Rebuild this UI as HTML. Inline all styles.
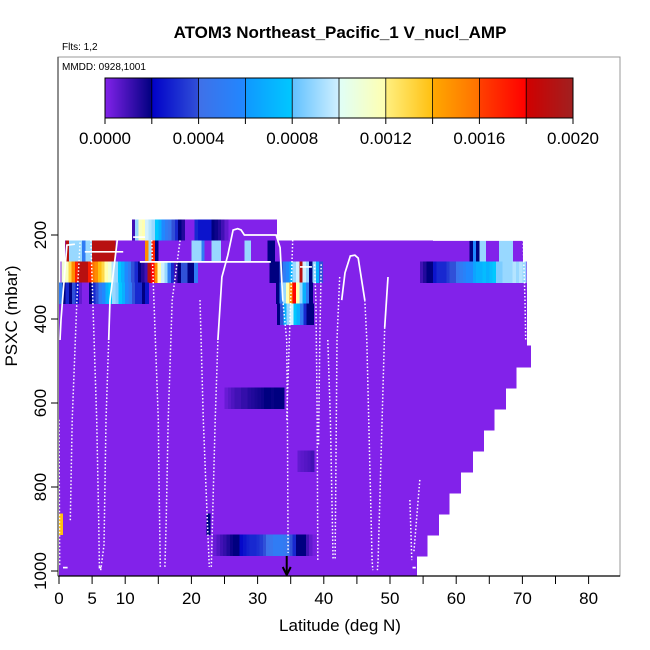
<!DOCTYPE html>
<html><head><meta charset="utf-8"><style>
html,body{margin:0;padding:0;background:#fff}
svg{display:block;font-family:"Liberation Sans",sans-serif}
</style></head><body>
<svg id="chart" width="650" height="650" viewBox="0 0 650 650">
<defs><clipPath id="plotclip"><rect x="58" y="57" width="562" height="519"/></clipPath></defs>
<text x="340" y="38" text-anchor="middle" font-size="17" font-weight="bold">ATOM3 Northeast_Pacific_1 V_nucl_AMP</text>
<text x="62" y="50" font-size="10">Flts: 1,2</text>
<g id="heat" clip-path="url(#plotclip)" shape-rendering="crispEdges"></g>
<g id="tracks" clip-path="url(#plotclip)"></g>
<rect x="58" y="57" width="562" height="519" fill="none" stroke="#999" stroke-width="1"/>
<text x="62" y="70" font-size="10">MMDD: 0928,1001</text>
<g id="cbar"></g>
<g id="axes"></g>
<text x="340" y="631" text-anchor="middle" font-size="17">Latitude (deg N)</text>
<text transform="translate(17,316) rotate(-90)" text-anchor="middle" font-size="17">PSXC (mbar)</text>
</svg>
<script>
const xTicks=[0,5,10,15,20,25,30,35,40,45,50,55,60,65,70,75,80];
const xTickLabels=["0","5","10","","20","","30","","40","","50","","60","","70","","80"];
const yTicks=[200,400,600,800,1000];
const cbTicks=[0,0.0002,0.0004,0.0006,0.0008,0.001,0.0012,0.0014,0.0016,0.0018,0.002];
const cbLabels=["0.0000","0.0004","0.0008","0.0012","0.0016","0.0020"];
const rowCoverage=[[11,32.9],[0.9,70.1],[0.2,70.7],[0,70.7],[0,70.7],[0,70.7],[0,71.3],[0,69.1],[0,67.5],[0,65.8],[0,64.2],[0,62.5],[0,60.7],[0,59],[0,57.4],[0,55.7],[0,54.1]];
const runRows=[0,1,1,2,2,2,3,3,4,8,11,14,14,15];
const runStarts=[11,1,62,0.4,31.8,54.5,0,32.8,32.9,25,36,0,22.3,23.3];
const runValues=[
[.0001,.0009,.00115,.0012,.001,.00095,.0009,.0008,.0007,.0006,.0005,.00045,.0004,.0003,.0002,.00015,0,0,0,.0003,.00025,.00025,.00025,.00025,.0002,.00018,.00015,.0001,.00005],
[.0019,.0009,.0009,.0009,.0009,.0005,.0009,.0009,.0019,.0019,.0019,.0019,.0019,.0019,.0019,0,0,0,0,0,0,0,0,0,.0015,.0009,.0017,.0002,0,0,0,0,0,0,0,0,0,0,.0009,.0009,.0009,.0005,0,0,.0009,.0009,.0009,0,0,0,0,0,0,0,.0009,.0009,0,0,0,0,0,.0002,.0002],
[.0002,.0006,.0002,.0009,.0009,0,0,0,0,.0009,.0009,.0009,.0009],
[.0011,.00115,.0013,.0015,.0017,.0019,.0019,.0019,.0017,.0016,.0015,.0014,.0013,.0012,.0011,.00095,.0009,.0008,.0007,.0006,.0005,.0004,.0003,.0002,.00015,.0001,.0019,.0018,.0015,.0012,.001,.0009,.0005,.0003,.0001,.0002,.0004,.0004,.0002,.0002,.0005],
[.0002,.0002,.0002,.0004,.0005,.0006,.0007,.0009,.001,.0019,.001,.0009,.0002,.0009,.0007,.0004],
[.0001,.00015,.0002,.0002,.00025,.0003,.0003,.0003,.00035,.0004,.0004,.00045,.0005,.00055,.0006,.0006,.00065,.0007,.0007,.00075,.0007,.00075,.0008,.00085,.00085,.0009,.0009,.0009,.00095,.0009,.00095,.0009],
[.0005,.0002,.0003,.0002,.0004,.00025,.00005,0,0,.0002,.0003,.0004,.0005,.0006,.0007,.0008,.0009,.00085,.0008,.0007,.0006,.0005,.0004,.0003,.0003,.0002,.00025],
[.0002,.0005,.0009,.0012,.0015,.0018,.0012,.0009,.0007,.0005,.0002],
[.0002,.0004,.0007,.0009,.001,.0008,.0007,.0005,.0003,.0002,.0002],
[.00004,.00006,.00008,.0001,.0001,.00012,.00012,.00014,.00015,.00016,.00017,.00018,.0002,.0002,.00019,.0002,.0002,.0002],
[.00005,.00006,.00007,.00008,.0001],
[.0014],
[.0002],
[.00004,.00007,.0001,.00012,.00015,.00018,.0002,.0002,.00022,.00025,.00028,.0003,.0003,.00032,.00035,.0004,.00042,.00045,.0005,.0005,.0005,.00048,.00045,.0004,.0003,.0002,.0002,.0002,.0001,.00005,.00002]
];
const tracksDotted=[
[[1.7,879],[2,640],[2.7,355],[3.2,212]],
[[4.8,212],[5.1,355],[5.7,640],[6,879],[6.1,990]],
[[6.3,998],[6.8,938],[7.1,640],[7.5,450]],
[[14,212],[15,640],[15.1,783],[15.3,990]],
[[16,990],[16.2,879],[16.5,640],[17.1,355],[18.3,212]],
[[21.3,355],[21.8,640],[22.4,879],[22.7,990]],
[[23,990],[23.6,640],[24,450]],
[[33.8,355],[34.4,450],[34.5,640],[34.6,957]],
[[35.3,212],[35,355],[34.9,402],[34.4,640]],
[[38.6,270],[38.8,355],[39,640],[39.1,974]],
[[39.6,270],[39.4,450],[39.2,700]],
[[40.6,450],[41,640],[41.4,974]],
[[42.4,300],[42,450],[41.7,974]],
[[46.2,355],[46.5,450],[47.3,974],[47.4,998]],
[[49.2,420],[48.8,640],[48.2,974],[48.1,998]],
[[53,831],[53.3,974]],
[[54.5,783],[53.6,957]],
[[70.1,212],[70.4,355],[70.5,450]],
[[0,640],[0.1,990]]
];
const tracksSolid=[
[[0.15,450],[0.3,402],[1.2,224],[2.4,222]],
[[7.5,450],[7.7,355],[8.8,212]],
[[24,450],[24.6,300],[25.5,248],[26.3,188],[27,185],[27.5,188],[28,200],[32.8,200],[33.4,230],[33.8,355]],
[[42.7,355],[43.2,290],[44,250],[44.7,248],[45.2,255],[46.2,355]],
[[49.7,300],[49.2,420]],
[[56.5,212],[70.1,212]],
[[12.2,264],[32,264]],
[[3.9,240],[9.7,240]],
[[11.2,205],[13,205]],
[[36.4,276],[38.2,276]],
[[0.6,992],[1.3,992]],
[[6,992],[6.4,992]],
[[53.4,992],[53.9,992]]
];
const stops=[[0,'#8222ea'],[0.0002,'#000080'],[0.0002,'#0000c8'],[0.0004,'#3050d8'],[0.0004,'#4070e8'],[0.0006,'#2088ff'],[0.0006,'#1098ff'],[0.0008,'#00c8ff'],[0.0008,'#60c0ff'],[0.001,'#d0f0ff'],[0.001,'#e0fff8'],[0.0012,'#ffffb0'],[0.0012,'#fff080'],[0.0014,'#ffc010'],[0.0014,'#ffa800'],[0.0016,'#ff7000'],[0.0016,'#ff4000'],[0.0018,'#ff0000'],[0.0018,'#d00000'],[0.002,'#a02020']];
const NS='http://www.w3.org/2000/svg';
function xs(lat){return 59+lat*6.62;}
function ys(p){return 235+(p-200)*0.42;}
function hex(c){return [parseInt(c.substr(1,2),16),parseInt(c.substr(3,2),16),parseInt(c.substr(5,2),16)];}
function color(v){
  if(v<=0) return stops[0][1];
  for(let i=1;i<stops.length;i++){
    if(v<=stops[i][0] && stops[i][0]>stops[i-1][0]){
      const t=(v-stops[i-1][0])/(stops[i][0]-stops[i-1][0]);
      const a=hex(stops[i-1][1]),b=hex(stops[i][1]);
      return 'rgb('+a.map((x,k)=>Math.round(x+(b[k]-x)*t)).join(',')+')';
    }
  }
  return stops[stops.length-1][1];
}
function mk(tag,attrs,parent){const e=document.createElementNS(NS,tag);for(const k in attrs)e.setAttribute(k,attrs[k]);parent.appendChild(e);return e;}
const heat=document.getElementById('heat');
rowCoverage.forEach((c,i)=>{
  const p0=162.5+50*i,p1=p0+50;
  const r=mk('rect',{x:xs(c[0]),y:ys(p0),width:xs(c[1])-xs(c[0]),height:ys(p1)-ys(p0)+1,fill:'#8222ea'},heat);
  
  
});
runValues.forEach((vals,j)=>{
  const row=runRows[j],p0=162.5+50*row,p1=p0+50;
  vals.forEach((v,k)=>{
    const l0=runStarts[j]+0.5*k;
    const r=mk('rect',{x:xs(l0),y:ys(p0),width:xs(l0+0.5)-xs(l0)+0.6,height:ys(p1)-ys(p0)+0.5,fill:color(v)},heat);
    
    
  });
});
const tg=document.getElementById('tracks');
function pts(t){return t.map(q=>xs(q[0]).toFixed(1)+','+ys(q[1]).toFixed(1)).join(' ');}
tracksDotted.forEach(t=>{
  const e=mk('polyline',{points:pts(t),fill:'none',stroke:'#fff','stroke-width':1.5,'stroke-dasharray':'1.5 2'},tg);
  
  
});
tracksSolid.forEach(t=>{
  const e=mk('polyline',{points:pts(t),fill:'none',stroke:'#fff','stroke-width':1.7},tg);
  
  
});
const arr=mk('path',{d:'M'+xs(34.4)+' 556 V574 M'+(xs(34.4)-4)+' 567 L'+xs(34.4)+' 575 L'+(xs(34.4)+4)+' 567',stroke:'#000','stroke-width':2,fill:'none'},tg);


const ax=document.getElementById('axes');
mk('line',{x1:58,y1:576,x2:620,y2:576,stroke:'#000','stroke-width':1.2},ax);
mk('line',{x1:58,y1:57,x2:58,y2:576,stroke:'#444','stroke-width':1.2},ax);
xTicks.forEach((t,i)=>{
  mk('line',{x1:xs(t),y1:576,x2:xs(t),y2:584,stroke:'#000'},ax);
  if(xTickLabels[i]){
    const e=mk('text',{x:xs(t),y:604,'text-anchor':'middle','font-size':17},ax);e.textContent=xTickLabels[i];
    
    
  }
});
yTicks.forEach(t=>{
  mk('line',{x1:51,y1:ys(t),x2:58,y2:ys(t),stroke:'#000'},ax);
  const e=mk('text',{transform:'translate(46,'+ys(t)+') rotate(-90)','text-anchor':'middle','font-size':17},ax);e.textContent=String(t);
  
  
});
const cb=document.getElementById('cbar');
const cx0=105,cx1=573,cy0=78,cy1=118;
const cbx=v=>cx0+(v/0.002)*(cx1-cx0);
for(let i=0;i<468;i++){
  const v=(i+0.5)/468*0.002;
  mk('rect',{x:cx0+i,y:cy0,width:1.2,height:cy1-cy0,fill:color(v)},cb);
}
mk('rect',{x:cx0,y:cy0,width:cx1-cx0,height:cy1-cy0,fill:'none',stroke:'#000','stroke-width':1},cb);
cbTicks.forEach(t=>{
  mk('line',{x1:cbx(t),y1:cy0,x2:cbx(t),y2:cy1,stroke:'#000','stroke-width':0.8},cb);
  mk('line',{x1:cbx(t),y1:cy1,x2:cbx(t),y2:cy1+6,stroke:'#000'},cb);
});
cbLabels.forEach((l,i)=>{
  const e=mk('text',{x:cbx(i*0.0004),y:144,'text-anchor':'middle','font-size':17},cb);e.textContent=l;
  
  
});
</script>
</body></html>
